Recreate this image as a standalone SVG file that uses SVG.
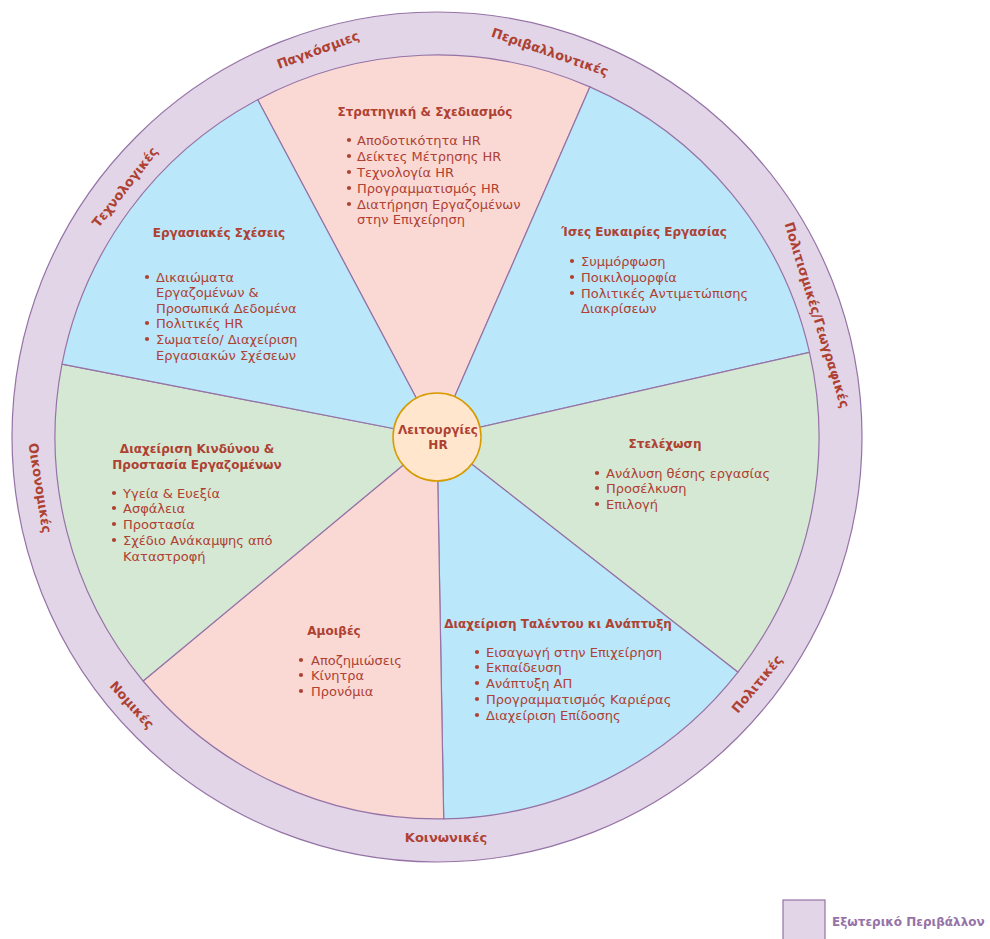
<svg xmlns="http://www.w3.org/2000/svg" width="990" height="939" viewBox="0 0 990 939">
<style>
.ring{fill:#E1D5E7;stroke:#9673A6;stroke-width:1.2}
.pink{fill:#FAD9D5;stroke:#9673A6;stroke-width:1.2;stroke-linejoin:round}
.blue{fill:#BAE7FA;stroke:#9673A6;stroke-width:1.2;stroke-linejoin:round}
.green{fill:#D5E8D4;stroke:#9673A6;stroke-width:1.2;stroke-linejoin:round}
.hub{fill:#FFE6CC;stroke:#D79B00;stroke-width:1.5}
text{font-family:"DejaVu Sans","Verdana",sans-serif;fill:#AE4132}
.t{font-size:12px;font-weight:bold;text-anchor:middle}
.i{font-size:13px}
.r{font-size:13px;font-weight:bold;text-anchor:middle;dominant-baseline:central}
.b{fill:#AE4132;stroke:none}
.lg{font-size:12px;font-weight:bold;fill:#9673A6}
</style>
<defs>
<circle id="dot" r="2.1" class="b"/>
</defs>
<g id="external-ring">
<circle class="ring" cx="437" cy="437" r="425"/>
<text class="r" transform="translate(318,50) rotate(-20)">Παγκόσμιες</text>
<text class="r" transform="translate(550,52) rotate(19)">Περιβαλλοντικές</text>
<text class="r" transform="translate(125,187) rotate(-52)">Τεχνολογικές</text>
<text class="r" transform="translate(817,315) rotate(73)">Πολιτισμικές/Γεωγραφικές</text>
<text class="r" transform="translate(40,488) rotate(81)">Οικονομικές</text>
<text class="r" transform="translate(132,705) rotate(48)">Νομικές</text>
<text class="r" transform="translate(446,837)">Κοινωνικές</text>
<text class="r" transform="translate(757,684) rotate(-50)">Πολιτικές</text>
</g>
<g id="connectors">
<path class="pink" d="M437,437 L257.7,99.7 A382,382 0 0,1 589.9,86.9 Z"/>
<path class="blue" d="M437,437 L589.9,86.9 A382,382 0 0,1 809.5,352.4 Z"/>
<path class="green" d="M437,437 L809.5,352.4 A382,382 0 0,1 738.0,672.2 Z"/>
<path class="blue" d="M437,437 L738.0,672.2 A382,382 0 0,1 443.7,818.9 Z"/>
<path class="pink" d="M437,437 L443.7,818.9 A382,382 0 0,1 143.1,681.0 Z"/>
<path class="green" d="M437,437 L143.1,681.0 A382,382 0 0,1 62.0,364.1 Z"/>
<path class="blue" d="M437,437 L62.0,364.1 A382,382 0 0,1 257.7,99.7 Z"/>
</g>
<g id="strategy">
<text class="t" x="425" y="116">Στρατηγική &amp; Σχεδιασμός</text>
<use href="#dot" x="349" y="140"/><use href="#dot" x="349" y="156"/><use href="#dot" x="349" y="172"/><use href="#dot" x="349" y="188"/><use href="#dot" x="349" y="204"/>
<text class="i" x="357" y="145">Αποδοτικότητα HR</text>
<text class="i" x="357" y="161">Δείκτες Μέτρησης HR</text>
<text class="i" x="357" y="177">Τεχνολογία HR</text>
<text class="i" x="357" y="193">Προγραμματισμός HR</text>
<text class="i" x="357" y="209">Διατήρηση Εργαζομένων</text>
<text class="i" x="357" y="224">στην Επιχείρηση</text>
</g>
<g id="equal-opportunities">
<text class="t" x="644" y="236">Ίσες Ευκαιρίες Εργασίας</text>
<use href="#dot" x="572" y="261"/><use href="#dot" x="572" y="277"/><use href="#dot" x="572" y="293"/>
<text class="i" x="581" y="266">Συμμόρφωση</text>
<text class="i" x="581" y="282">Ποικιλομορφία</text>
<text class="i" x="581" y="298">Πολιτικές Αντιμετώπισης</text>
<text class="i" x="581" y="313">Διακρίσεων</text>
</g>
<g id="staffing">
<text class="t" x="665" y="448">Στελέχωση</text>
<use href="#dot" x="597" y="473"/><use href="#dot" x="597" y="488"/><use href="#dot" x="597" y="504"/>
<text class="i" x="606" y="478">Ανάλυση θέσης εργασίας</text>
<text class="i" x="606" y="493">Προσέλκυση</text>
<text class="i" x="606" y="509">Επιλογή</text>
</g>
<g id="talent">
<text class="t" x="558" y="628">Διαχείριση Ταλέντου κι Ανάπτυξη</text>
<use href="#dot" x="477" y="652"/><use href="#dot" x="477" y="667"/><use href="#dot" x="477" y="683"/><use href="#dot" x="477" y="699"/><use href="#dot" x="477" y="715"/>
<text class="i" x="486" y="657">Εισαγωγή στην Επιχείρηση</text>
<text class="i" x="486" y="672">Εκπαίδευση</text>
<text class="i" x="486" y="688">Ανάπτυξη ΑΠ</text>
<text class="i" x="486" y="704">Προγραμματισμός Καριέρας</text>
<text class="i" x="486" y="720">Διαχείριση Επίδοσης</text>
</g>
<g id="compensation">
<text class="t" x="334" y="635">Αμοιβές</text>
<use href="#dot" x="301" y="660"/><use href="#dot" x="301" y="675"/><use href="#dot" x="301" y="691"/>
<text class="i" x="311" y="665">Αποζημιώσεις</text>
<text class="i" x="311" y="680">Κίνητρα</text>
<text class="i" x="311" y="696">Προνόμια</text>
</g>
<g id="risk">
<text class="t" x="197" y="453">Διαχείριση Κινδύνου &amp;</text>
<text class="t" x="197" y="469">Προστασία Εργαζομένων</text>
<use href="#dot" x="114" y="493"/><use href="#dot" x="114" y="508"/><use href="#dot" x="114" y="524"/><use href="#dot" x="114" y="540"/>
<text class="i" x="123" y="498">Υγεία &amp; Ευεξία</text>
<text class="i" x="123" y="513">Ασφάλεια</text>
<text class="i" x="123" y="529">Προστασία</text>
<text class="i" x="123" y="545">Σχέδιο Ανάκαμψης από</text>
<text class="i" x="123" y="561">Καταστροφή</text>
</g>
<g id="labour-relations">
<text class="t" x="219" y="237">Εργασιακές Σχέσεις</text>
<use href="#dot" x="147" y="277"/><use href="#dot" x="147" y="323"/><use href="#dot" x="147" y="339"/>
<text class="i" x="156" y="282">Δικαιώματα</text>
<text class="i" x="156" y="297">Εργαζομένων &amp;</text>
<text class="i" x="156" y="313">Προσωπικά Δεδομένα</text>
<text class="i" x="156" y="328">Πολιτικές HR</text>
<text class="i" x="156" y="344">Σωματείο/ Διαχείριση</text>
<text class="i" x="156" y="360">Εργασιακών Σχέσεων</text>
</g>
<g id="hr-functions">
<circle class="hub" cx="437" cy="437" r="44"/>
<text class="t" x="438" y="434">Λειτουργίες</text>
<text class="t" x="438" y="449">HR</text>
</g>
<g id="legend">
<rect x="783" y="900" width="42" height="45" class="ring"/>
<text class="lg" x="832" y="926">Εξωτερικό Περιβάλλον</text>
</g>
</svg>
